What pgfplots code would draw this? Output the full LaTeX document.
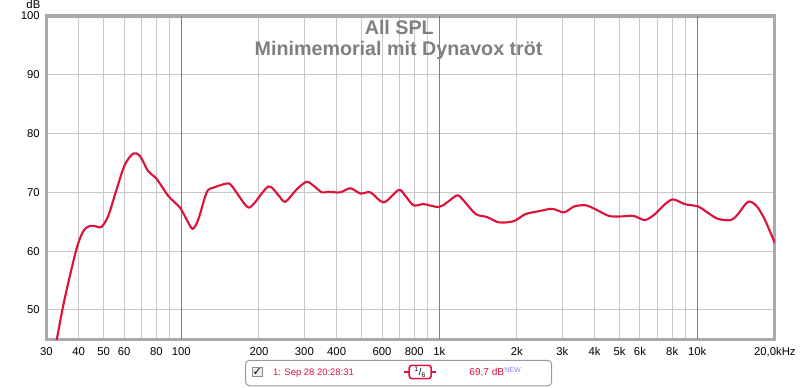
\documentclass[border=0pt]{standalone}
\usepackage{fontspec}
\setmainfont{Liberation Sans}
\newfontfamily\dejavu{DejaVu Sans}
\usepackage{pgfplots}
\pgfplotsset{compat=1.18}
\definecolor{curve}{HTML}{DC143C}
\definecolor{framec}{HTML}{AAAAAA}
\definecolor{gridl}{HTML}{C8C8C8}
\definecolor{gridd}{HTML}{808080}
\definecolor{titlec}{HTML}{7F7F7F}
\definecolor{newc}{HTML}{8080FF}
\begin{document}
\begin{tikzpicture}
\path (0,0) rectangle (600pt,291pt);
\begin{axis}[
  at={(34.9pt,36pt)}, anchor=south west,
  scale only axis, width=547.3pt, height=243pt,
  xmode=log, xmin=30, xmax=20000, ymin=45, ymax=100,
  xtick={30,40,50,60,80,100,200,300,400,600,800,1000,2000,3000,4000,5000,6000,8000,10000,20000},
  xticklabels={30,40,50,60,80,100,200,300,400,600,800,1k,2k,3k,4k,5k,6k,8k,10k,{20,0kHz}},
  minor xtick={70,90,500,700,900,7000,9000},
  extra x ticks={100,1000,10000},
  extra x tick labels={},
  extra x tick style={major grid style={draw=gridd, line width=0.75pt}},
  ytick={50,60,70,80,90,100},
  yticklabels={50,60,70,80,90,100},
  xmajorgrids, xminorgrids, ymajorgrids,
  major grid style={draw=gridl, line width=0.75pt},
  minor grid style={draw=gridl, line width=0.75pt},
  major tick length=0pt, minor tick length=0pt,
  axis line style={draw=framec, line width=2.4pt},
  ticklabel style={font=\fontsize{8.5}{10}\selectfont, text=black},
  xticklabel style={anchor=base, yshift=-12.5pt},
  yticklabel style={anchor=east, xshift=-1.5pt},
]
\addplot[curve, line width=1.6pt, smooth, tension=0.5] coordinates {
(32.4,43.5) (32.9,45) (35.3,51.9) (39.2,60.3) (41.7,63.4) (44.2,64.3) (46.9,64.2)
(49.0,64.1) (52.1,66.0) (56.1,70.5) (60.4,74.7) (65.1,76.6) (69.1,76.2)
(74.4,73.6) (80.2,72.3) (89.0,69.4) (98.8,67.4) (104.8,65.4) (110.6,63.8)
(116.4,65.4) (125.4,70.0) (133.2,70.8) (150,71.5) (156.9,71.1) (179.4,67.6)
(190.4,68.0) (217.8,71.0) (238,69.5) (253,68.4) (280,70.5) (306,71.8)
(326,71.1) (351,70.0) (372,70.1) (413,70.0) (452,70.7) (495,69.8) (541,70.0)
(609,68.3) (696,70.4) (739,69.4) (795,67.8) (870,68.0) (996,67.5) (1073,68.3)
(1176,69.5) (1249,68.5) (1386,66.3) (1533,65.8) (1700,64.9) (1944,65.1)
(2158,66.3) (2437,66.8) (2742,67.2) (3046,66.6) (3334,67.6) (3697,67.8)
(4043,67.1) (4540,66.0) (5031,65.9) (5658,66.0) (6272,65.3) (6860,66.3)
(7506,68.0) (8073,68.8) (8953,68.0) (10080,67.6) (10860,66.7) (12017,65.5)
(13540,65.3) (14390,66.3) (15740,68.4) (16970,67.7) (18270,65.4) (20000,61.4)
};
\end{axis}
% titles
\node[anchor=base, inner sep=0, font=\bfseries\fontsize{14.8}{16}\selectfont, text=titlec] at (300pt,265.3pt) {All SPL};
\node[anchor=base, inner sep=0, font=\bfseries\fontsize{14.8}{16}\selectfont, text=titlec] at (299.5pt,249.2pt) {Minimemorial mit Dynavox tröt};
\node[anchor=base east, inner sep=0, font=\fontsize{8.5}{10}\selectfont] at (30.5pt,284.8pt) {dB};
% legend
\draw[draw=gridd!80, line width=0.75pt, rounded corners=3pt] (184.5pt,1.1pt) rectangle (414.5pt,20.25pt);
\draw[draw=gridd!90, fill=gray!15, line width=0.6pt] (189.5pt,7.8pt) rectangle (196.8pt,15.3pt);
\node[inner sep=0, font=\dejavu\bfseries\fontsize{8.5}{9}\selectfont] at (193.3pt,11.6pt) {✓};
\node[anchor=base west, inner sep=0, font=\fontsize{7.1}{8}\selectfont, text=curve] at (205pt,8.5pt) {1: Sep 28 20:28:31};
\draw[curve, line width=1.2pt] (303.75pt,11.5pt) -- (307.5pt,11.5pt) (324pt,11.5pt) -- (327.8pt,11.5pt);
\draw[curve, line width=1.2pt, rounded corners=2pt] (307.5pt,6.5pt) rectangle (324pt,16.5pt);
\node[inner sep=0, font=\fontsize{7.3}{8}\selectfont] at (315.75pt,11.5pt) {\textsuperscript{1}/\textsubscript{6}};
\node[anchor=base west, inner sep=0, font=\fontsize{7.6}{8}\selectfont, text=curve] at (352.5pt,8.5pt) {69,7 dB\textcolor{newc}{\textsuperscript{NEW}}};
\end{tikzpicture}
\end{document}
